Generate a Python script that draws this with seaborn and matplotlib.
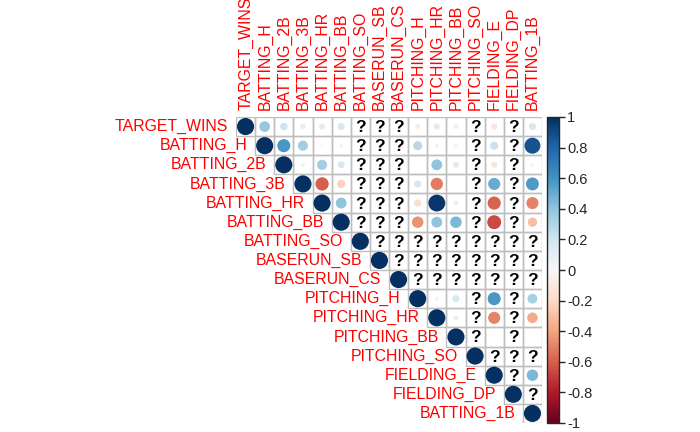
import numpy as np
import pandas as pd
import seaborn as sns
import matplotlib.pyplot as plt
from matplotlib.patches import Rectangle
from matplotlib.colors import Normalize
from matplotlib.cm import ScalarMappable

variables = ['TARGET_WINS', 'BATTING_H', 'BATTING_2B', 'BATTING_3B', 'BATTING_HR',
             'BATTING_BB', 'BATTING_SO', 'BASERUN_SB', 'BASERUN_CS', 'PITCHING_H',
             'PITCHING_HR', 'PITCHING_BB', 'PITCHING_SO', 'FIELDING_E', 'FIELDING_DP',
             'BATTING_1B']

na = np.nan
# upper triangle, each row starts at the diagonal; nan = "?" (missing)
r_target_wins = [1, 0.39, 0.20, 0.10, 0.12, 0.17, na, na, na, -0.08, 0.12, 0.08, na, -0.13, na, 0.17]
r_batting_h = [1, 0.58, 0.35, 0.02, -0.05, na, na, na, 0.28, 0.05, 0.05, na, 0.22, na, 0.87]
r_batting_2b = [1, -0.06, 0.35, 0.17, na, na, na, 0.01, 0.40, 0.12, na, -0.13, na, 0.04]
r_batting_3b = [1, -0.60, -0.23, na, na, na, 0.17, -0.52, 0.0, na, 0.50, na, 0.57]
r_batting_hr = [1, 0.40, na, na, na, -0.18, 0.97, 0.08, na, -0.59, na, -0.50]
r_batting_bb = [1, na, na, na, -0.45, 0.40, 0.45, na, -0.66, na, -0.30]
r_batting_so = [1, na, na, na, na, na, na, na, na, na]
r_baserun_sb = [1, na, na, na, na, na, na, na, na]
r_baserun_cs = [1, na, na, na, na, na, na, na]
r_pitching_h = [1, -0.05, 0.17, na, 0.58, na, 0.33]
r_pitching_hr = [1, 0.08, na, -0.50, na, -0.38]
r_pitching_bb = [1, na, 0.01, na, 0.01]
r_pitching_so = [1, na, na, na]
r_fielding_e = [1, na, 0.45]
r_fielding_dp = [1, na]
r_batting_1b = [1]

upper_rows = [r_target_wins, r_batting_h, r_batting_2b, r_batting_3b, r_batting_hr,
              r_batting_bb, r_batting_so, r_baserun_sb, r_baserun_cs, r_pitching_h,
              r_pitching_hr, r_pitching_bb, r_pitching_so, r_fielding_e, r_fielding_dp,
              r_batting_1b]

cbar_ticks = [1, 0.8, 0.6, 0.4, 0.2, 0, -0.2, -0.4, -0.6, -0.8, -1]
cbar_labels = ['1', '0.8', '0.6', '0.4', '0.2', '0', '-0.2', '-0.4', '-0.6', '-0.8', '-1']

records = []
for i, row in enumerate(upper_rows):
    for k, val in enumerate(row):
        records.append({'row': i, 'col': i + k, 'r': val})
df = pd.DataFrame(records)
df['absr'] = df['r'].abs()
known = df.dropna(subset=['r'])
missing = df[df['r'].isna()]

sns.set_style('white')
plt.rcParams['font.family'] = ['Liberation Sans', 'DejaVu Sans']

n = len(variables)
fig = plt.figure(figsize=(7, 4.32), dpi=100)
ax = fig.add_axes([236 / 700, 9 / 432, 306 / 700, 306 / 432])

# cell borders for the upper triangle
for i in range(n):
    for j in range(i, n):
        ax.add_patch(Rectangle((j - 0.5, i - 0.5), 1, 1, fill=False,
                               edgecolor='#BEBEBE', lw=1, zorder=1))

sns.scatterplot(data=known, x='col', y='row', hue='r', size='absr',
                palette='RdBu', hue_norm=(-1, 1), sizes=(0, 152), size_norm=(0, 1),
                linewidth=0, legend=False, ax=ax, zorder=2)

for _, m in missing.iterrows():
    ax.text(m['col'], m['row'] + 0.05, '?', ha='center', va='center',
            fontsize=12.5, fontweight='bold', color='black')

ax.set_xlim(-0.5, n - 0.5)
ax.set_ylim(n - 0.5, -0.5)
for s in ax.spines.values():
    s.set_visible(False)
ax.set_xlabel('')
ax.set_ylabel('')
ax.xaxis.tick_top()
ax.set_xticks(range(n))
ax.set_xticklabels(variables, rotation=90, color='red', fontsize=11.4)
ax.set_yticks([])
ax.tick_params(axis='x', length=0, pad=5)

for i, name in enumerate(variables):
    ax.text(i - 0.9, i, name, ha='right', va='center', color='red', fontsize=11.4)

cax = fig.add_axes([547 / 700, 9 / 432, 12 / 700, 306 / 432])
sm = ScalarMappable(norm=Normalize(-1, 1), cmap='RdBu')
cb = fig.colorbar(sm, cax=cax, ticks=cbar_ticks)
cb.ax.set_yticklabels(cbar_labels)
cb.ax.tick_params(labelsize=10.5, length=4, width=1, pad=2)
cb.outline.set_linewidth(1)

fig.savefig('out.png', dpi=100)
